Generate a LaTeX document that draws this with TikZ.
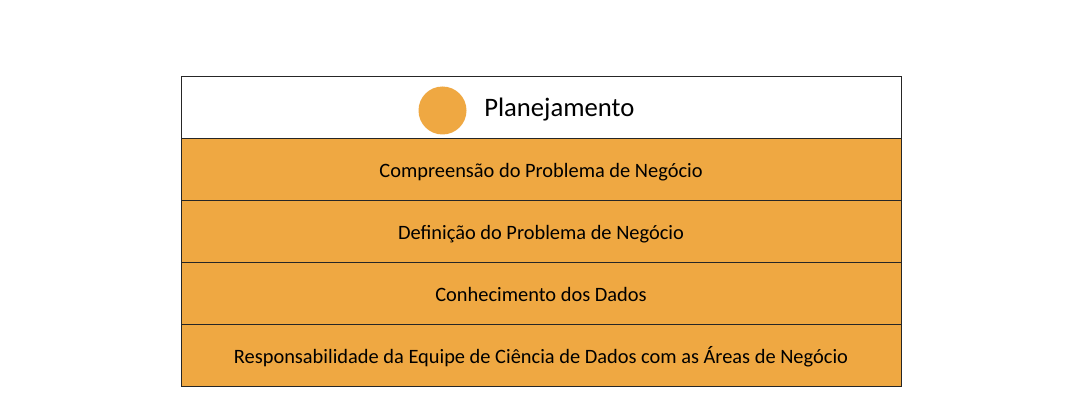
\documentclass[tikz,border=0pt]{standalone}
\usepackage{fontspec}
\setmainfont{Carlito}
\definecolor{faixa}{RGB}{239,168,66}
\begin{document}
\begin{tikzpicture}[x=0.75pt,y=0.75pt]
  \tikzset{linha/.style={draw=black!85,line width=0.75pt,fill=faixa,rectangle,
      minimum width=540pt,minimum height=46.5pt,inner sep=0pt,text height=15.5pt,text depth=3pt,
      font=\fontsize{15.3}{18}\selectfont},
    topo/.style={linha,fill=white}}
  \useasboundingbox (0,0) rectangle (1065,415);
  \node[topo] (t) at (541,307.5) {};
  \node[linha] (l1) at (541,245.5) {Compreensão do Problema de Negócio};
  \node[linha] (l2) at (541,183.5) {Definição do Problema de Negócio};
  \node[linha] (l3) at (541,121.5) {Conhecimento dos Dados};
  \node[linha] (l4) at (541,59.5) {Responsabilidade da Equipe de Ciência de Dados com as Áreas de Negócio};
  \node[circle,fill=faixa,minimum size=36pt,inner sep=0pt] (c) at (442.5,304.5) {};
  \node[anchor=west,font=\fontsize{20}{24}\selectfont,inner sep=0pt] (p) at (484,305) {Planejamento};
\end{tikzpicture}
\end{document}
